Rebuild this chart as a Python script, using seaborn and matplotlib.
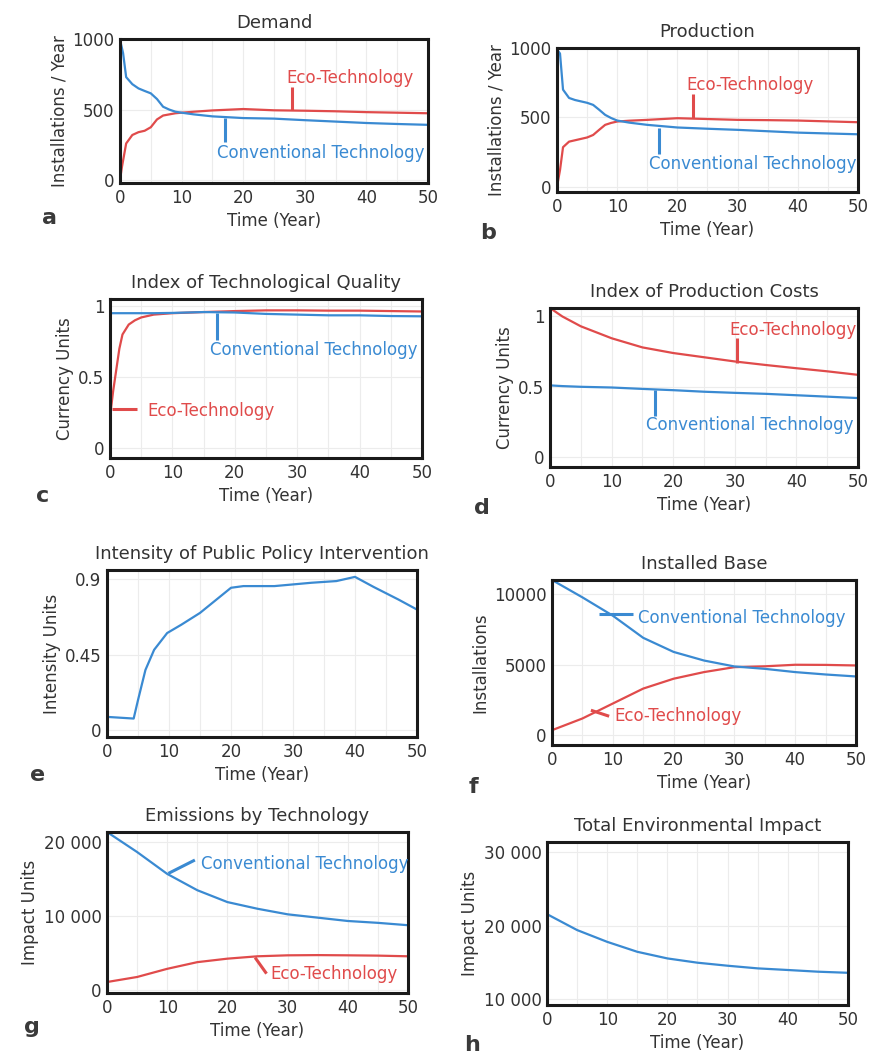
import numpy as np
import pandas as pd
import matplotlib as mpl
mpl.use('agg')
import matplotlib.pyplot as plt
import seaborn as sns

sns.set_theme(style='white')
plt.rcParams['font.family'] = ['DejaVu Sans']

BLUE = '#3a8ad2'
RED = '#e04b4b'
TXT = '#333333'

# --- data
demand_conv_t = [0, 0.5, 1, 2, 3, 4, 5, 6, 7, 8, 9, 10, 12, 15, 20, 25, 30, 35, 40, 45, 50]
demand_conv = [995, 900, 730, 680, 650, 632, 615, 575, 520, 500, 485, 478, 466, 452, 440, 436, 425, 415, 405, 398, 392]
demand_eco_t = [0, 0.3, 1, 2, 3, 4, 5, 6, 7, 8, 9, 10, 12, 15, 20, 25, 30, 35, 40, 45, 50]
demand_eco = [0, 90, 260, 320, 340, 350, 375, 430, 458, 466, 474, 478, 485, 494, 504, 495, 492, 488, 482, 478, 474]

prod_conv_t = [0, 0.5, 1, 2, 3, 4, 5, 6, 7, 8, 9, 10, 12, 15, 20, 25, 30, 35, 40, 45, 50]
prod_conv = [990, 960, 700, 640, 625, 615, 605, 590, 555, 518, 495, 477, 462, 446, 427, 418, 410, 400, 390, 384, 378]
prod_eco_t = [0, 0.5, 1, 2, 3, 4, 5, 6, 7, 8, 9, 10, 12, 15, 20, 25, 30, 35, 40, 45, 50]
prod_eco = [0, 120, 285, 325, 335, 345, 355, 373, 410, 446, 460, 470, 476, 482, 494, 488, 482, 480, 477, 471, 465]

qual_t = [0, 0.5, 1, 1.5, 2, 3, 4, 5, 7, 10, 15, 20, 25, 30, 35, 40, 45, 50]
qual_eco = [0.22, 0.4, 0.55, 0.7, 0.8, 0.87, 0.9, 0.92, 0.94, 0.95, 0.958, 0.965, 0.97, 0.97, 0.968, 0.968, 0.965, 0.962]
qual_conv = [0.95, 0.95, 0.95, 0.95, 0.95, 0.95, 0.95, 0.95, 0.95, 0.952, 0.958, 0.955, 0.945, 0.94, 0.935, 0.935, 0.93, 0.928]

cost_t = [0, 2, 5, 10, 15, 20, 25, 30, 35, 40, 45, 50]
cost_eco = [1.06, 1.0, 0.93, 0.845, 0.78, 0.74, 0.71, 0.68, 0.655, 0.632, 0.61, 0.585]
cost_conv = [0.51, 0.505, 0.5, 0.495, 0.485, 0.476, 0.465, 0.457, 0.45, 0.44, 0.43, 0.42]

policy_t = [0, 4.3, 5, 6.2, 7.6, 9.7, 12, 15, 20, 22, 27, 33, 37, 40, 43, 47, 50]
policy = [0.08, 0.07, 0.18, 0.36, 0.48, 0.58, 0.63, 0.70, 0.85, 0.86, 0.86, 0.88, 0.89, 0.915, 0.855, 0.78, 0.72]

base_t = [0, 5, 10, 15, 20, 25, 30, 35, 40, 45, 50]
base_conv = [11000, 9770, 8470, 6900, 5900, 5290, 4870, 4700, 4470, 4300, 4160]
base_eco = [350, 1180, 2240, 3300, 4000, 4470, 4820, 4880, 4990, 4980, 4940]

emis_t = [0, 5, 10, 15, 20, 25, 30, 35, 40, 45, 50]
emis_conv = [21350, 18650, 15700, 13500, 11900, 11000, 10250, 9800, 9350, 9100, 8780]
emis_eco = [1120, 1800, 2900, 3800, 4270, 4590, 4720, 4750, 4720, 4680, 4590]

impact_t = [0, 5, 10, 15, 20, 25, 30, 35, 40, 45, 50]
impact_total = [21560, 19400, 17800, 16450, 15550, 14970, 14560, 14200, 13980, 13750, 13600]

W, H = 870, 1056
fig = plt.figure(figsize=(W / 100, H / 100), dpi=100)


def make_ax(l, t, r, b):
    return fig.add_axes([l / W, 1 - b / H, (r - l) / W, (b - t) / H])


def style(ax, title, ylabel, ylim, yticks, yticklabels, letter, letter_xy):
    ax.set_xlim(0, 50)
    ax.set_ylim(*ylim)
    ax.set_xticks([0, 10, 20, 30, 40, 50])
    ax.set_yticks(yticks)
    ax.set_yticklabels(yticklabels)
    ax.set_xticks(np.arange(5, 50, 5), minor=True)
    ax.grid(True, which='both', axis='x', color='#ececec', lw=0.8)
    ax.grid(True, which='major', axis='y', color='#ececec', lw=0.8)
    ax.tick_params(labelsize=12, colors=TXT, length=0, pad=4)
    for s in ax.spines.values():
        s.set_color('#1a1a1a')
        s.set_linewidth(2.2)
    ax.set_title(title, fontsize=13, color=TXT, pad=8)
    ax.set_xlabel('Time (Year)', fontsize=12, color=TXT, labelpad=4)
    ax.set_ylabel(ylabel, fontsize=12, color=TXT, labelpad=3)
    fig.text(letter_xy[0] / W, 1 - letter_xy[1] / H, letter, fontsize=16,
             fontweight='bold', color='#3a3a3a', ha='center', va='center')


def line(ax, t, v, color):
    sns.lineplot(x=t, y=v, color=color, lw=1.6, ax=ax, estimator=None, sort=False)


def tag(ax, text, color, xy_text, p0, p1, ha='center'):
    ax.plot([p0[0], p1[0]], [p0[1], p1[1]], color=color, lw=2.2, solid_capstyle='butt')
    ax.text(xy_text[0], xy_text[1], text, color=color, fontsize=12, ha=ha, va='center')


# a
ax = make_ax(120, 39, 428, 183)
line(ax, demand_eco_t, demand_eco, RED)
line(ax, demand_conv_t, demand_conv, BLUE)
style(ax, 'Demand', 'Installations / Year', (-20, 1000), [0, 500, 1000], ['0', '500', '1000'], 'a', (50, 218))
tag(ax, 'Eco-Technology', RED, (37.3, 725), (28, 660), (28, 494))
tag(ax, 'Conventional Technology', BLUE, (32.6, 190), (17.1, 270), (17.1, 442))

# b
ax = make_ax(557, 48, 858, 192)
line(ax, prod_eco_t, prod_eco, RED)
line(ax, prod_conv_t, prod_conv, BLUE)
style(ax, 'Production', 'Installations / Year', (-38, 1000), [0, 500, 1000], ['0', '500', '1000'], 'b', (488, 233))
tag(ax, 'Eco-Technology', RED, (32.1, 735), (22.6, 672), (22.6, 494))
tag(ax, 'Conventional Technology', BLUE, (32.5, 165), (16.9, 235), (16.9, 425))

# c
ax = make_ax(110, 299, 422, 458)
line(ax, qual_t, qual_eco, RED)
line(ax, qual_t, qual_conv, BLUE)
style(ax, 'Index of Technological Quality', 'Currency Units', (-0.07, 1.05), [0, 0.5, 1], ['0', '0.5', '1'], 'c', (43, 496))
tag(ax, 'Conventional Technology', BLUE, (32.6, 0.69), (17.2, 0.76), (17.2, 0.953))
tag(ax, 'Eco-Technology', RED, (6.0, 0.26), (0.4, 0.275), (4.4, 0.275), ha='left')

# d
ax = make_ax(550, 308, 858, 467)
line(ax, cost_t, cost_eco, RED)
line(ax, cost_t, cost_conv, BLUE)
style(ax, 'Index of Production Costs', 'Currency Units', (-0.07, 1.06), [0, 0.5, 1], ['0', '0.5', '1'], 'd', (482, 508))
tag(ax, 'Eco-Technology', RED, (39.5, 0.905), (30.3, 0.845), (30.3, 0.67))
tag(ax, 'Conventional Technology', BLUE, (32.4, 0.226), (17.0, 0.29), (17.0, 0.476))

# e
ax = make_ax(107, 570, 417, 737)
line(ax, policy_t, policy, BLUE)
style(ax, 'Intensity of Public Policy Intervention', 'Intensity Units', (-0.04, 0.956), [0, 0.45, 0.9], ['0', '0.45', '0.9'], 'e', (38, 775))

# f
ax = make_ax(552, 580, 856, 745)
line(ax, base_t, base_eco, RED)
line(ax, base_t, base_conv, BLUE)
style(ax, 'Installed Base', 'Installations', (-700, 11000), [0, 5000, 10000], ['0', '5000', '10000'], 'f', (473, 787))
tag(ax, 'Conventional Technology', BLUE, (14.2, 8306), (7.8, 8620), (13.4, 8620), ha='left')
tag(ax, 'Eco-Technology', RED, (10.3, 1340), (6.4, 1765), (9.4, 1340), ha='left')

# g
ax = make_ax(107, 832, 408, 993)
line(ax, emis_t, emis_eco, RED)
line(ax, emis_t, emis_conv, BLUE)
style(ax, 'Emissions by Technology', 'Impact Units', (-360, 21350), [0, 10000, 20000], ['0', '10 000', '20 000'], 'g', (32, 1027))
tag(ax, 'Conventional Technology', BLUE, (15.6, 17100), (10.2, 15765), (14.6, 17570), ha='left')
tag(ax, 'Eco-Technology', RED, (27.2, 2250), (24.6, 4414), (26.5, 2250), ha='left')

# h
ax = make_ax(547, 842, 848, 1005)
line(ax, impact_t, impact_total, BLUE)
style(ax, 'Total Environmental Impact', 'Impact Units', (9230, 31350), [10000, 20000, 30000], ['10 000', '20 000', '30 000'], 'h', (472, 1045))

fig.savefig('out.png', dpi=100, facecolor='white')
